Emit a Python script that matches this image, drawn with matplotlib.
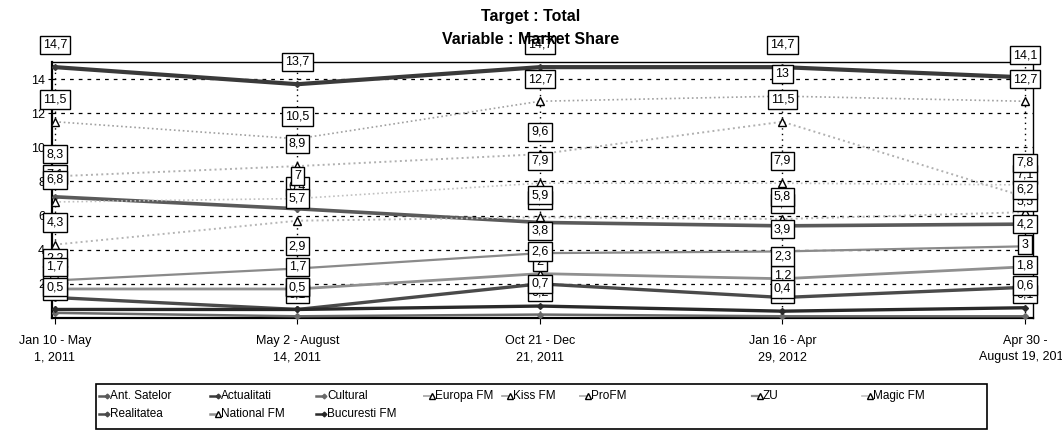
import matplotlib
matplotlib.use("Agg")
import matplotlib.pyplot as plt
from matplotlib.patches import Rectangle
from matplotlib.lines import Line2D

plt.rcParams['font.family'] = ['Liberation Sans', 'DejaVu Sans']

categories = ["Jan 10 - May\n1, 2011", "May 2 - August\n14, 2011", "Oct 21 - Dec\n21, 2011",
              "Jan 16 - Apr\n29, 2012", "Apr 30 -\nAugust 19, 2012"]

ant_satelor = [7.1, 6.4, 5.6, 5.4, 5.5]
actualitati = [14.7, 13.7, 14.7, 14.7, 14.1]
cultural = [0.3, 0.1, 0.2, 0.1, 0.1]
europa_fm = [8.3, 8.9, 9.6, 11.5, 7.1]
kiss_fm = [11.5, 10.5, 12.7, 13.0, 12.7]
profm = [4.3, 5.7, 5.9, 5.8, 6.2]
zu = [2.2, 2.9, 3.8, 3.9, 4.2]
magic_fm = [6.8, 7.0, 7.9, 7.9, 7.8]
realitatea = [1.2, 0.5, 2.0, 1.2, 1.8]
national_fm = [1.7, 1.7, 2.6, 2.3, 3.0]
bucuresti_fm = [0.5, 0.5, 0.7, 0.4, 0.6]

yticks = [2, 4, 6, 8, 10, 12, 14]

series = [
    ("Ant. Satelor", ant_satelor, dict(color="#5a5a5a", lw=2.6, ls="-", marker="D", ms=3)),
    ("Actualitati", actualitati, dict(color="#3a3a3a", lw=3.0, ls="-", marker="D", ms=3)),
    ("Cultural", cultural, dict(color="#6a6a6a", lw=1.8, ls="-", marker="D", ms=3)),
    ("Europa FM", europa_fm, dict(color="#b0b0b0", lw=1.4, ls=":", marker="^", ms=6, mfc="white", mec="black")),
    ("Kiss FM", kiss_fm, dict(color="#a0a0a0", lw=1.2, ls=":", marker="^", ms=6, mfc="white", mec="black")),
    ("ProFM", profm, dict(color="#b5b5b5", lw=1.4, ls=":", marker="^", ms=6, mfc="white", mec="black")),
    ("ZU", zu, dict(color="#8a8a8a", lw=1.6, ls="-", marker="^", ms=6, mfc="white", mec="black")),
    ("Magic FM", magic_fm, dict(color="#c0c0c0", lw=1.2, ls=":", marker="^", ms=6, mfc="white", mec="black")),
    ("Realitatea", realitatea, dict(color="#4a4a4a", lw=2.4, ls="-", marker="D", ms=3)),
    ("National FM", national_fm, dict(color="#909090", lw=2.0, ls="-", marker="^", ms=6, mfc="white", mec="black")),
    ("Bucuresti FM", bucuresti_fm, dict(color="#2a2a2a", lw=2.4, ls="-", marker="D", ms=3)),
]


def fmt(v):
    s = f"{v:.1f}"
    if s.endswith(".0"):
        s = s[:-2]
    return s.replace(".", ",")


W, H = 1062, 434
fig = plt.figure(figsize=(W / 100, H / 100), dpi=100)
ax = fig.add_axes([0.049, 0.2673, 0.9237, 0.5898])
x = list(range(len(categories)))

ax.set_xlim(-0.012, 4.033)
ax.set_ylim(0, 15)

for yt in yticks:
    ax.axhline(yt, color="black", lw=0.9, ls=(0, (3, 4)), zorder=1)
for xi in x:
    ax.axvline(xi, color="black", lw=1.0, ls=(0, (1, 3)), zorder=1)

for i, (name, vals, st) in enumerate(series):
    ax.plot(x, vals, label=name, zorder=3, clip_on=False, **st)

for i, (name, vals, st) in enumerate(series):
    for xi, v in zip(x, vals):
        ax.annotate(fmt(v), (xi, v), xytext=(0, 16), textcoords="offset points",
                    ha="center", va="center", fontsize=9, zorder=6 + i,
                    annotation_clip=False,
                    bbox=dict(boxstyle="square,pad=0.25", fc="white", ec="black", lw=1.0))

ax.set_xticks(x)
ax.set_xticklabels(categories, fontsize=9, linespacing=1.5)
ax.set_yticks(yticks)
ax.set_yticklabels([str(t) for t in yticks], fontsize=9)
ax.tick_params(axis="x", length=4, pad=8)
ax.tick_params(axis="y", length=3, pad=2)
for sp in ["left", "bottom"]:
    ax.spines[sp].set_linewidth(1.6)
for sp in ["top", "right"]:
    ax.spines[sp].set_linewidth(1.0)

fig.text(0.5, 1 - 16 / H, "Target : Total", ha="center", va="center", fontsize=11.5, fontweight="bold")
fig.text(0.5, 1 - 40 / H, "Variable : Market Share", ha="center", va="center", fontsize=11.5, fontweight="bold")

# manual legend laid out row-wise like the reference
fig.patches.append(Rectangle((96 / W, 1 - 429 / H), 891 / W, 45 / H,
                             transform=fig.transFigure, fill=False, ec="black", lw=1.2))
col_px = [103, 214, 320, 428, 506, 584, 756, 866]
row_px = [396, 414]
style = {name: st for name, vals, st in series}
names = [s[0] for s in series]
legend_rows = [names[:8], names[8:]]
for r, row in enumerate(legend_rows):
    for c, name in enumerate(row):
        st = style[name]
        cx = col_px[c] / W
        cy = 1 - row_px[r] / H
        fig.add_artist(Line2D([cx - 4 / W, cx + 4 / W], [cy, cy], transform=fig.transFigure,
                              color=st["color"], lw=min(st["lw"], 1.8), ls="-",
                              marker=st["marker"], ms=st["ms"] * 0.8,
                              mfc=st.get("mfc", st["color"]), mec=st.get("mec", st["color"]),
                              markevery=[1]))
        fig.text(cx + 7 / W, cy, name, ha="left", va="center", fontsize=8.5)

fig.savefig("out.png", dpi=100)
